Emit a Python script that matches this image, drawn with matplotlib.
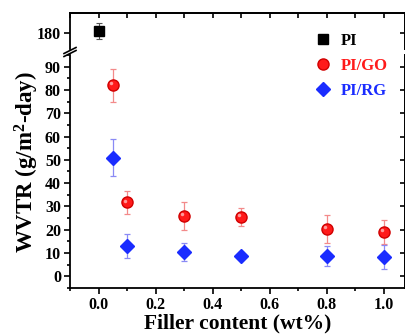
import matplotlib
matplotlib.use("Agg")
import matplotlib.pyplot as plt
import matplotlib.transforms as mtransforms
from matplotlib.ticker import MultipleLocator, FixedLocator
from matplotlib.lines import Line2D

plt.rcParams['font.family'] = ['Liberation Serif', 'DejaVu Serif']
plt.rcParams['font.weight'] = 'bold'
plt.rcParams['mathtext.fontset'] = 'custom'
plt.rcParams['mathtext.rm'] = 'Liberation Serif:bold'
plt.rcParams['mathtext.it'] = 'Liberation Serif:bold'
plt.rcParams['mathtext.bf'] = 'Liberation Serif:bold'

# ---- data ----
pi_x = [0.0]
pi_y = [181.0]
pi_err = [3.5]

go_x = [0.05, 0.1, 0.3, 0.5, 0.8, 1.0]
go_y = [82.0, 31.7, 25.8, 25.4, 20.5, 19.0]
go_err = [7.0, 5.0, 6.0, 4.0, 6.0, 5.0]

rg_x = [0.05, 0.1, 0.3, 0.5, 0.8, 1.0]
rg_y = [51.0, 13.0, 10.5, 8.8, 8.6, 8.3]
rg_err = [8.0, 5.0, 4.0, 1.5, 4.3, 5.0]

x_ticks = [0.0, 0.2, 0.4, 0.6, 0.8, 1.0]
y_ticks_low = [0, 10, 20, 30, 40, 50, 60, 70, 80, 90]
y_ticks_up = [180]
labels = ['PI', 'PI/GO', 'PI/RG']

W, H = 406, 336
fig = plt.figure(figsize=(W / 100, H / 100), dpi=100)

def fx(px):
    return px / W

def fy(py):
    return 1 - py / H

left_px, right_px = 70, 405
low_top, low_bot = 55, 288
up_top, up_bot = 13, 49

ax_low = fig.add_axes([fx(left_px), fy(low_bot), fx(right_px - left_px), (low_bot - low_top) / H])
ax_up = fig.add_axes([fx(left_px), fy(up_bot), fx(right_px - left_px), (up_bot - up_top) / H])

xlim = (-0.1, 1.075)
ppu = (low_bot - low_top) / 100.0  # pixels per y unit
ax_low.set_ylim(-5, 95)
ax_up.set_ylim(180 - (up_bot - 33) / ppu, 180 + (33 - up_top) / ppu)

go_color = '#ff1a1a'
go_err_color = '#f38a8a'
rg_color = '#1a2cff'
rg_err_color = '#8a8af5'

for ax in (ax_low, ax_up):
    ax.set_xlim(*xlim)
    ax.errorbar(pi_x, pi_y, yerr=pi_err, fmt='s', color='black', ms=6.5,
                ecolor='#555555', elinewidth=0.8, capsize=2.5, capthick=0.8, zorder=3)
    ax.errorbar(go_x, go_y, yerr=go_err, fmt='o', color=go_color, mec='#d00000', ms=8,
                ecolor=go_err_color, elinewidth=0.9, capsize=2.5, capthick=0.9, zorder=3)
    # highlight on spheres
    off = mtransforms.offset_copy(ax.transData, fig=fig, x=-1.2, y=1.4, units='points')
    ax.plot(go_x, go_y, 'o', color='#ff9a9a', ms=2.5, mew=0, transform=off, zorder=4)
    ax.errorbar(rg_x, rg_y, yerr=rg_err, fmt='D', color=rg_color, ms=7.5,
                ecolor=rg_err_color, elinewidth=0.9, capsize=2.5, capthick=0.9, zorder=3)
    for s in ax.spines.values():
        s.set_linewidth(1.3)
    ax.tick_params(axis='both', which='both', direction='out', width=1.2)
    ax.tick_params(which='major', length=4.5, labelsize=11.5)
    ax.tick_params(which='minor', length=2.5)
    ax.xaxis.set_major_locator(FixedLocator(x_ticks))
    ax.xaxis.set_minor_locator(MultipleLocator(0.1))

# lower axes
ax_low.spines['top'].set_visible(False)
ax_low.yaxis.set_major_locator(FixedLocator(y_ticks_low))
ax_low.yaxis.set_minor_locator(MultipleLocator(5))
ax_low.set_xticklabels([f'{t:.1f}' for t in x_ticks])
ax_low.tick_params(right=False, top=False, pad=2)
ax_low.set_xlabel('Filler content (wt%)', fontsize=15.5, fontweight='bold', labelpad=0)

# upper axes
ax_up.spines['bottom'].set_visible(False)
ax_up.yaxis.set_major_locator(FixedLocator(y_ticks_up))
ax_up.yaxis.set_minor_locator(FixedLocator([]))
ax_up.tick_params(axis='x', which='both', bottom=False, labelbottom=False, top=False)
ax_up.tick_params(right=False, pad=2)

# mirrored inward ticks on top and right
sec_top = ax_up.secondary_xaxis('top')
sec_top.xaxis.set_major_locator(MultipleLocator(0.1))
sec_top.tick_params(direction='in', length=3.5, width=1.2, labeltop=False)
sec_top.spines['top'].set_linewidth(1.3)

for ax in (ax_low, ax_up):
    sec_r = ax.secondary_yaxis('right')
    if ax is ax_low:
        sec_r.yaxis.set_major_locator(FixedLocator(y_ticks_low))
    else:
        sec_r.yaxis.set_major_locator(FixedLocator(y_ticks_up))
    sec_r.tick_params(direction='in', length=3.5, width=1.2, labelright=False)
    sec_r.spines['right'].set_linewidth(1.3)

# y label
fig.text(fx(27), fy(162), 'WVTR (g/m$^{2}$-day)', rotation=90, fontsize=16.5,
         fontweight='bold', ha='center', va='center')

# break marks
for yb in (up_bot + 1.5, low_top - 1.5):
    fig.add_artist(Line2D([fx(left_px - 6), fx(left_px + 6)], [fy(yb + 3), fy(yb - 3)],
                          color='black', lw=1.2))

# legend
handles = [
    Line2D([], [], marker='s', color='black', ls='none', ms=6.5),
    Line2D([], [], marker='o', color=go_color, mec='#d00000', ls='none', ms=8),
    Line2D([], [], marker='D', color=rg_color, ls='none', ms=7.5),
]
fig.legend(handles, labels, loc='upper left', bbox_to_anchor=(fx(306), fy(25)),
           frameon=False, labelcolor=['black', go_color, rg_color],
           handlelength=1.0, handletextpad=0.6, labelspacing=0.52, borderpad=0,
           prop={'weight': 'bold', 'size': 12})

fig.savefig('out.png', dpi=100)
